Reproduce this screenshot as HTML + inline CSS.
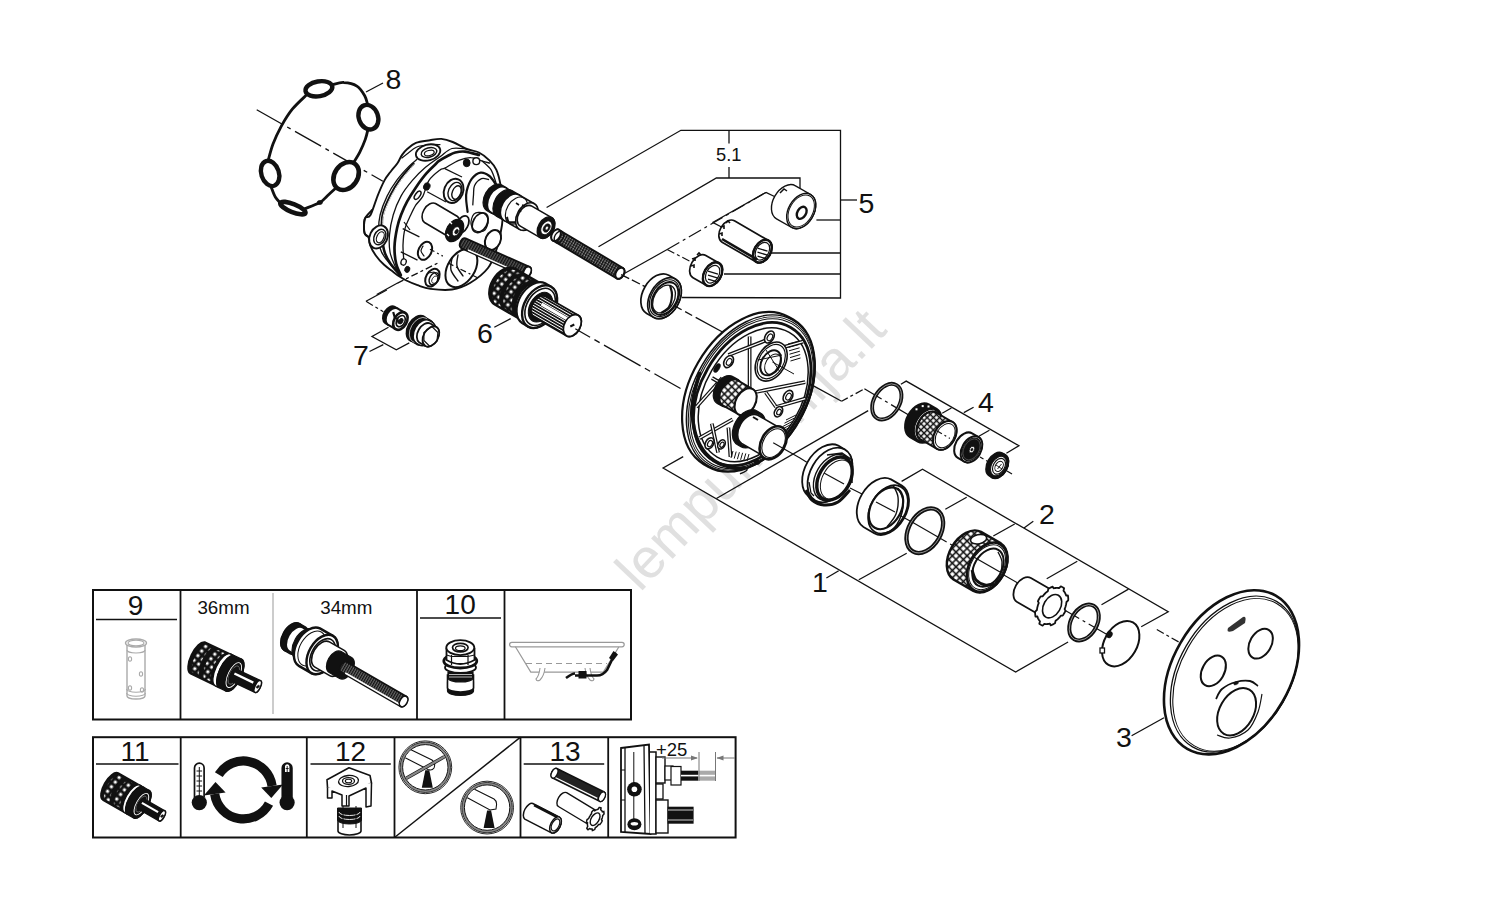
<!DOCTYPE html>
<html><head><meta charset="utf-8">
<style>
html,body{margin:0;padding:0;background:#fff;width:1500px;height:916px;overflow:hidden}
svg{position:absolute;left:0;top:0}
text{font-family:"Liberation Sans",sans-serif;fill:#111}
</style></head><body>
<svg width="1500" height="916" viewBox="0 0 1500 916">
<defs>
<pattern id="thread" width="2.6" height="2.6" patternUnits="userSpaceOnUse" patternTransform="rotate(30)"><rect width="2.6" height="2.6" fill="#555"/><rect width="1.3" height="2.6" fill="#111"/></pattern>
<pattern id="mesh" width="2.6" height="2.6" patternUnits="userSpaceOnUse" patternTransform="rotate(30)"><rect width="2.6" height="2.6" fill="#888"/><rect width="1.3" height="2.6" fill="#111"/><rect width="2.6" height="0.6" fill="#111"/></pattern>
<pattern id="spline" width="2.6" height="2.6" patternUnits="userSpaceOnUse" patternTransform="rotate(-60)"><rect width="2.6" height="2.6" fill="#fff"/><rect width="1.7" height="2.6" fill="#111"/></pattern>
<pattern id="knurl" width="4.2" height="4.2" patternUnits="userSpaceOnUse" patternTransform="rotate(45)"><rect width="4.2" height="4.2" fill="#111"/><rect x="1.4" y="1.4" width="1.9" height="1.9" fill="#fff"/></pattern>
<pattern id="knurl2" width="4.6" height="4.6" patternUnits="userSpaceOnUse" patternTransform="rotate(45)"><rect width="4.6" height="4.6" fill="#111"/><rect x="1.5" y="1.5" width="2" height="2" fill="#fff"/></pattern>
<pattern id="thread2" width="2.4" height="2.4" patternUnits="userSpaceOnUse" patternTransform="rotate(30)"><rect width="2.4" height="2.4" fill="#666"/><rect width="1.2" height="2.4" fill="#111"/></pattern>
<pattern id="knurl3" width="5" height="5" patternUnits="userSpaceOnUse" patternTransform="rotate(45)"><rect width="5" height="5" fill="#111"/><rect x="1.5" y="1.5" width="2.4" height="2.4" fill="#fff"/></pattern>
<pattern id="knurl4" width="4.4" height="4.4" patternUnits="userSpaceOnUse" patternTransform="rotate(45)"><rect width="4.4" height="4.4" fill="#111"/><rect x="1.2" y="1.2" width="2.9" height="2.9" fill="#fff"/></pattern>
<pattern id="knurl5" width="6" height="6" patternUnits="userSpaceOnUse" patternTransform="rotate(40)"><rect width="6" height="6" fill="#111"/><rect x="1.6" y="1.6" width="2.9" height="2.9" fill="#fff"/></pattern>
<pattern id="knurl6" width="5.2" height="5.2" patternUnits="userSpaceOnUse" patternTransform="rotate(45)"><rect width="5.2" height="5.2" fill="#111"/><rect x="1.2" y="1.2" width="3.6" height="3.6" fill="#fff"/></pattern>
</defs>
<rect width="1500" height="916" fill="#fff"/>
<!-- watermark -->
<text x="0" y="0" font-size="56" style="fill:#e0e0e0" transform="translate(640,593) rotate(-46.5)">lempumanija.lt</text>

<!-- leader lines / brackets -->
<g id="leaders" stroke="#111" stroke-width="1.3" fill="none">
<!-- 5 -->
<polyline points="546.6,207.5 680.9,130.3 840.5,130.3 840.5,298 682,297.5"/>
<line x1="729" y1="130.3" x2="729" y2="143.5"/>
<polyline points="598.5,246.8 716.4,178 800,178 800,188.5"/>
<line x1="729" y1="167" x2="729" y2="178"/>
<line x1="840.5" y1="200" x2="857" y2="200"/>
<line x1="816.4" y1="220" x2="840.5" y2="220"/>
<line x1="770.8" y1="253" x2="840.5" y2="253"/>
<line x1="724" y1="274" x2="840.5" y2="274"/>
<!-- 8 -->
<line x1="366" y1="92" x2="383" y2="83"/>
<!-- 7 -->
<polyline points="388.5,327.3 372,336.5 396.3,349.8 409.3,342.9"/>
<line x1="369.5" y1="351.5" x2="383.3" y2="344.6"/>
<polyline points="386.8,290 366,301.3"/>
<!-- 6 -->
<line x1="494.3" y1="327.3" x2="510.7" y2="318.6"/>
<!-- 4 -->
<polyline points="900.9,384.2 906.2,381.1 1018.9,445.7 1006.4,453.2"/>
<line x1="951.4" y1="408" x2="942.2" y2="413.2"/>
<line x1="989.4" y1="430.3" x2="978.9" y2="436.2"/>
<line x1="963.8" y1="412.6" x2="973.6" y2="407.3"/>
<!-- 1 -->
<polyline points="683.2,456.6 663.1,468 1015.6,672.1 1068.1,642"/>
<line x1="716.4" y1="498.5" x2="868.2" y2="410.6"/>
<line x1="826.4" y1="578" x2="838.7" y2="570.7"/>
<line x1="858.8" y1="579.8" x2="906.7" y2="553.3"/>
<!-- 2 -->
<polyline points="901.6,481.4 922.5,469.3 1168.2,611.8 1141.2,626.7"/>
<line x1="966.7" y1="497.3" x2="945.3" y2="509.3"/>
<line x1="1014.7" y1="524" x2="993.3" y2="536"/>
<line x1="1077.3" y1="561.3" x2="1046.7" y2="578.7"/>
<line x1="1128.5" y1="589.1" x2="1101.5" y2="604.7"/>
<line x1="1024" y1="528" x2="1033.3" y2="521.3"/>
</g>

<!-- labels -->
<g font-size="28.5">
<text x="385.5" y="89.3">8</text>
<text x="858.5" y="212.6">5</text>
<text x="477" y="342.9">6</text>
<text x="353" y="364.5">7</text>
<text x="978" y="411.9">4</text>
<text x="1039" y="524">2</text>
<text x="812" y="592">1</text>
<text x="1116" y="746.5">3</text>
</g>
<text x="716" y="161.4" font-size="18.3">5.1</text>

<!-- table 1 -->
<g stroke="#111" fill="none">
<rect x="93" y="590" width="538" height="129.5" stroke-width="2"/>
<line x1="180.5" y1="590" x2="180.5" y2="719.5" stroke-width="1.8"/>
<line x1="417" y1="590" x2="417" y2="719.5" stroke-width="1.8"/>
<line x1="504.5" y1="590" x2="504.5" y2="719.5" stroke-width="1.8"/>
<line x1="273" y1="593" x2="273" y2="714" stroke="#bbb" stroke-width="1.5"/>
<line x1="96" y1="619.5" x2="177" y2="619.5" stroke-width="1.5"/>
<line x1="420" y1="618" x2="501" y2="618" stroke-width="1.5"/>
</g>
<text x="135.5" y="614.7" font-size="28" text-anchor="middle">9</text>
<text x="223.5" y="613.8" font-size="18.8" text-anchor="middle">36mm</text>
<text x="346.3" y="613.8" font-size="18.8" text-anchor="middle">34mm</text>
<text x="460.2" y="614.4" font-size="28" text-anchor="middle">10</text>

<!-- table 2 -->
<g stroke="#111" fill="none">
<rect x="93" y="737.2" width="642.6" height="100.3" stroke-width="2"/>
<line x1="180.7" y1="737.2" x2="180.7" y2="837.5" stroke-width="1.8"/>
<line x1="306.8" y1="737.2" x2="306.8" y2="837.5" stroke-width="1.8"/>
<line x1="394.5" y1="737.2" x2="394.5" y2="837.5" stroke-width="1.8"/>
<line x1="520.5" y1="737.2" x2="520.5" y2="837.5" stroke-width="1.8"/>
<line x1="608.2" y1="737.2" x2="608.2" y2="837.5" stroke-width="1.8"/>
<line x1="394.5" y1="837.5" x2="520.5" y2="737.2" stroke-width="1.5"/>
<line x1="96" y1="764" x2="178.5" y2="764" stroke-width="1.5"/>
<line x1="310.5" y1="764" x2="390.8" y2="764" stroke-width="1.5"/>
<line x1="523.7" y1="764" x2="604.2" y2="764" stroke-width="1.5"/>
</g>
<text x="135" y="760.8" font-size="28" text-anchor="middle">11</text>
<text x="350.6" y="760.8" font-size="28" text-anchor="middle">12</text>
<text x="565.1" y="760.8" font-size="28" text-anchor="middle">13</text>

<!-- PARTS -->
<g id="parts">
<polyline points="256.7,109.7 382.9,181.2" fill="none" stroke="#111" stroke-width="1.3" stroke-dasharray="30 5 4 5" />
<path d="M332.8,84.7 C334.6,84.3 339.9,82.2 343.9,82.5 C347.9,82.7 353.4,83.9 356.9,86.2 C360.4,88.4 362.9,92.7 364.7,95.8 C366.5,98.9 367.2,103.2 367.7,104.7 " fill="none" stroke="#111" stroke-width="2.8" stroke-linejoin="round" stroke-linecap="round" />
<path d="M368,129.2 C367.6,130.9 366.6,135.6 365.3,139.4 C363.9,143.3 361.6,148.6 359.7,152.4 C357.7,156.3 354.6,160.9 353.6,162.6 " fill="none" stroke="#111" stroke-width="2.8" stroke-linejoin="round" stroke-linecap="round" />
<path d="M335.6,188.2 C334.2,189.5 329.8,193.6 327.2,196 C324.6,198.4 323.7,200.4 319.8,202.5 C315.9,204.7 306.6,207.9 304,209 " fill="none" stroke="#111" stroke-width="2.8" stroke-linejoin="round" stroke-linecap="round" />
<path d="M280.8,203.5 C279.9,202.4 276.9,199.7 275.3,197 C273.6,194.2 271.9,188.8 271.2,187.1 " fill="none" stroke="#111" stroke-width="2.8" stroke-linejoin="round" stroke-linecap="round" />
<path d="M268.2,160.4 C269,157.7 270.9,149.7 273,144.1 C275.2,138.4 278,132.3 281.2,126.4 C284.4,120.6 288,114.5 292.3,109.2 C296.7,103.8 304.7,96.8 307.2,94.3 " fill="none" stroke="#111" stroke-width="2.8" stroke-linejoin="round" stroke-linecap="round" />
<ellipse cx="319.8" cy="202.5" rx="2.6" ry="2" transform="rotate(0 319.8 202.5)" fill="#111" stroke="#111" stroke-width="0.8"/>
<ellipse cx="318.9" cy="88.8" rx="13.6" ry="7.4" transform="rotate(-10 318.9 88.8)" fill="#fff" stroke="#111" stroke-width="4.4"/>
<ellipse cx="368.4" cy="117.2" rx="9.6" ry="12.6" transform="rotate(-20 368.4 117.2)" fill="#fff" stroke="#111" stroke-width="4.4"/>
<ellipse cx="346.1" cy="176" rx="15" ry="11.5" transform="rotate(-55 346.1 176)" fill="#fff" stroke="#111" stroke-width="4.6"/>
<ellipse cx="270.1" cy="173.4" rx="8.8" ry="13" transform="rotate(-18 270.1 173.4)" fill="#fff" stroke="#111" stroke-width="4.4"/>
<ellipse cx="292.9" cy="208.1" rx="13.5" ry="4" transform="rotate(22 292.9 208.1)" fill="#fff" stroke="#111" stroke-width="4.6"/>
<path d="M370.5,215 C372.5,211.4 375.2,201.9 377.5,196.1 C379.8,190.3 382.3,184.5 384.5,180.4 C386.7,176.3 388.4,174.6 390.6,171.7 C392.8,168.8 395.7,165.8 397.6,163 C399.5,160.2 400.3,157.4 401.9,155.1 C403.5,152.8 404.9,151 407.2,149 C409.5,147 412.1,144.4 415.9,142.9 C419.7,141.4 425.6,140.9 429.9,140.2 C434.1,139.5 437.6,138.6 441.4,138.9 C445.2,139.2 448.5,140.3 452.7,142 C456.9,143.7 462.3,147.2 466.7,149 C471.1,150.8 475.1,150.6 478.9,152.5 C482.7,154.4 486.5,157.4 489.4,160.3 C492.3,163.2 494.5,165.7 496.4,169.9 C498.3,174.1 499.6,179.8 500.7,185.7 C501.8,191.5 502.8,198.4 503,205 C503.2,211.6 503,217.8 502,225 C501,232.2 499.3,240.8 497,248 C494.7,255.2 492.5,262.2 488,268 C483.5,273.8 476,279.4 470,283 C464,286.6 458.6,288.5 452,289.5 C445.4,290.5 436.2,289.6 430.5,288.9 C424.8,288.2 421.5,286.6 417.5,285.2 C413.5,283.8 409.3,281.9 406.4,280.5 C403.5,279.1 402.2,278.3 399.9,276.8 C397.6,275.3 395.1,273.3 392.5,271.3 C389.9,269.3 386.9,267.4 384.1,264.8 C381.3,262.2 378.1,258.8 375.8,255.5 C373.5,252.2 371.4,248.4 370.2,245.3 C369,242.2 369.3,238.9 368.4,236.9 C367.5,234.9 365.3,235.7 364.6,233.2 C363.9,230.7 364,224.7 364.2,222.1 C364.4,219.5 364.6,218.6 365.6,217.4 C366.7,216.2 368.5,218.6 370.5,215 Z" fill="#fff" stroke="#111" stroke-width="1.9" stroke-linejoin="round" stroke-linecap="round" />
<path d="M372.1,210 C371,211.2 366.9,215.4 365.6,217.4 C364.3,219.4 364.4,219.5 364.2,222.1 C364,224.7 363.9,230.7 364.6,233.2 C365.3,235.7 367.8,236.3 368.4,236.9 " fill="none" stroke="#111" stroke-width="1.9" stroke-linejoin="round" stroke-linecap="round" />
<path d="M440,144.6 C438.3,144.6 433.9,144.2 430,144.6 C426.1,145 420.6,145.4 416.8,147 C413,148.6 409.5,152.2 407,154 C404.5,155.8 402.8,157.3 401.9,158 " fill="none" stroke="#111" stroke-width="1.2" stroke-linejoin="round" stroke-linecap="round" />
<path d="M416.8,159.5 C415.5,160.7 412.2,162.9 408.9,166.4 C405.5,169.9 400.3,175.5 396.7,180.4 C393.1,185.3 389.9,190.3 387.1,196.1 C384.3,201.9 381.5,209.3 380.1,215 C378.7,220.7 378.6,224.3 378.6,230 C378.7,235.7 379,244 380.4,249 C381.8,254 383.6,255.8 386.9,260.1 C390.1,264.4 397.7,272.5 399.9,275 " fill="none" stroke="#111" stroke-width="1.3" stroke-linejoin="round" stroke-linecap="round" />
<path d="M413.3,163.8 C411.1,166.4 404,174.2 400.2,179.5 C396.4,184.8 393.5,189.4 390.6,195.3 C387.7,201.2 384.1,208.9 382.7,215 C381.3,221.1 381.8,226.2 382,232 C382.2,237.8 382.7,244.8 384,250 C385.3,255.2 387.2,258.8 390,263 C392.8,267.2 398.8,273.4 400.5,275.5 " fill="none" stroke="#111" stroke-width="2.6" stroke-linejoin="round" stroke-linecap="round" />
<path d="M413.8,164.6 C411.6,167.2 404.6,175.1 400.9,180.3 C397.2,185.5 394.3,190.2 391.4,196 C388.5,201.8 385,209 383.6,215 C382.2,221 383.1,229.2 383,232 " fill="none" stroke="#fff" stroke-width="0.9" stroke-linejoin="round" stroke-linecap="round" />
<path d="M466.7,149 C464.2,148.9 456.4,147.2 452,148.5 C447.6,149.8 444.4,153.7 440,156.8 C435.6,159.9 430.1,163.4 425.5,167.3 C420.9,171.2 416.5,175.6 412.4,180.4 C408.3,185.2 404.2,190.3 401,196.1 C397.8,201.9 395.1,208.5 393.2,215 C391.3,221.5 390,228.8 389.5,235 C389,241.2 389.1,246.8 390,252 C390.9,257.2 393.2,262 395,266 C396.8,270 399.6,274.3 400.5,276 " fill="none" stroke="#111" stroke-width="1.3" stroke-linejoin="round" stroke-linecap="round" />
<path d="M478.9,155 C476.6,154.4 468.8,152 464.9,151.6 C461,151.2 458.2,151.8 455.3,152.5 C452.4,153.2 450.3,154.6 447.5,156 C444.7,157.4 440.6,159.9 438.7,161.2 C436.8,162.5 438.1,161.8 436,163.8 C433.9,165.8 429.8,169.5 426.4,173.4 C423,177.3 419.1,182.7 415.9,187.4 C412.7,192.1 409.7,196.8 407.2,201.4 C404.7,206 402.7,210.6 401,215 C399.3,219.4 398.2,222.7 397.1,228 C396,233.3 394.6,241.1 394.5,247.1 C394.4,253.1 395.1,259.2 396.2,263.8 C397.2,268.4 400,273.1 400.8,275 " fill="none" stroke="#111" stroke-width="2.7" stroke-linejoin="round" stroke-linecap="round" />
<path d="M489.4,163 C488.2,162.7 485.5,162.1 482.4,161.2 C479.3,160.3 474.9,157.8 471,157.7 C467.1,157.5 463.2,158.6 458.8,160.3 C454.4,162.1 447.9,166.6 444.8,168.2 C441.7,169.8 442.6,168 440,170 C437.4,172 431.9,176.1 429,180.4 C426.1,184.8 425.1,192 422.9,196.1 C420.7,200.2 417.9,201.8 415.9,204.9 C413.9,208.1 412.5,211.1 410.7,215 C408.9,218.9 406.3,223.6 405,228.6 C403.7,233.6 403.2,239.4 403,245 C402.8,250.6 403.8,259.2 404,262 " fill="none" stroke="#111" stroke-width="1.3" stroke-linejoin="round" stroke-linecap="round" />
<path d="M496.4,183.9 C495.5,181.6 493.4,173.7 491.1,169.9 C488.8,166.1 483.8,162.6 482.4,161.2 " fill="none" stroke="#111" stroke-width="1.3" stroke-linejoin="round" stroke-linecap="round" />
<ellipse cx="417.6" cy="195.3" rx="2.3" ry="4.8" transform="rotate(35 417.6 195.3)" fill="#fff" stroke="#111" stroke-width="1.5"/>
<ellipse cx="426.8" cy="186.5" rx="3.2" ry="3.8" transform="rotate(20 426.8 186.5)" fill="#111" stroke="#111" stroke-width="0.8"/>
<polyline points="427.2,191.8 446,202" fill="none" stroke="#111" stroke-width="1.3" />
<ellipse cx="428.1" cy="152.5" rx="12.5" ry="7.8" transform="rotate(-15 428.1 152.5)" fill="#fff" stroke="#111" stroke-width="1.8"/>
<ellipse cx="429" cy="152.5" rx="8" ry="4.6" transform="rotate(-15 429 152.5)" fill="#fff" stroke="#111" stroke-width="1.5"/>
<ellipse cx="429.3" cy="153" rx="5" ry="2.6" transform="rotate(-15 429.3 153)" fill="none" stroke="#111" stroke-width="1.2"/>
<ellipse cx="378.6" cy="236.9" rx="8.8" ry="12" transform="rotate(25 378.6 236.9)" fill="#fff" stroke="#111" stroke-width="1.9"/>
<ellipse cx="379.8" cy="237" rx="5.6" ry="8.2" transform="rotate(25 379.8 237)" fill="#fff" stroke="#111" stroke-width="1.5"/>
<ellipse cx="380.3" cy="237.2" rx="3.4" ry="5.8" transform="rotate(25 380.3 237.2)" fill="none" stroke="#111" stroke-width="1.2"/>
<ellipse cx="466.7" cy="162.9" rx="3.4" ry="3.8" transform="rotate(0 466.7 162.9)" fill="#111" stroke="#111" stroke-width="1"/>
<ellipse cx="476.3" cy="161.2" rx="3.4" ry="3.4" transform="rotate(0 476.3 161.2)" fill="#fff" stroke="#111" stroke-width="1.4"/>
<polyline points="444.8,168.6 462,177" fill="none" stroke="#111" stroke-width="1.2" />
<ellipse cx="453.6" cy="190.9" rx="9.5" ry="12.5" transform="rotate(22 453.6 190.9)" fill="#fff" stroke="#111" stroke-width="1.9"/>
<ellipse cx="455" cy="191.5" rx="6.5" ry="9.5" transform="rotate(22 455 191.5)" fill="#fff" stroke="#111" stroke-width="1.4"/>
<ellipse cx="456.5" cy="192.5" rx="4.2" ry="7" transform="rotate(22 456.5 192.5)" fill="none" stroke="#111" stroke-width="1.4"/>
<path d="M467.6,211.9 C467.4,209.9 466.4,203.5 466.2,200 C466,196.5 465.8,194.5 466.7,190.9 C467.6,187.3 469.6,181.8 471.9,178.7 C474.2,175.6 477.8,173 480.7,172.6 C483.6,172.2 486.9,174.1 489.4,176 C491.9,177.9 494.5,182.6 495.5,183.9 " fill="none" stroke="#111" stroke-width="2.2" stroke-linejoin="round" stroke-linecap="round" />
<path d="M472.8,204.9 C472.9,203.2 473.2,198.2 473.5,195 C473.8,191.8 473.2,188.4 474.5,185.7 C475.8,183 479.2,179.7 481.5,178.7 C483.8,177.7 487.3,179.4 488.5,179.5 " fill="none" stroke="#111" stroke-width="1.3" stroke-linejoin="round" stroke-linecap="round" />
<polyline points="402.7,228.6 419.4,236.9" fill="none" stroke="#111" stroke-width="1.3" />
<polyline points="400.8,251.8 417.5,260.1" fill="none" stroke="#111" stroke-width="1.3" />
<polyline points="404,222 410,230" fill="none" stroke="#111" stroke-width="1.2" />
<ellipse cx="425" cy="250.8" rx="6.5" ry="9.5" transform="rotate(25 425 250.8)" fill="#fff" stroke="#111" stroke-width="2.0"/>
<path d="M423,246 C422.7,246.8 420.8,249.3 421,251 C421.2,252.7 423.5,255.2 424,256 " fill="none" stroke="#111" stroke-width="1.2" stroke-linejoin="round" stroke-linecap="round" />
<ellipse cx="403.6" cy="262" rx="2.6" ry="3.2" transform="rotate(20 403.6 262)" fill="#fff" stroke="#111" stroke-width="1.3"/>
<ellipse cx="407.3" cy="269.4" rx="2.5" ry="3.2" transform="rotate(20 407.3 269.4)" fill="#111" stroke="#111" stroke-width="0.8"/>
<path d="M424.5,222.5 A7.3,11 30 0 1 435.5,203.5 L457.5,216.5 A7.3,11 30 0 1 446.5,235.5 Z" fill="#fff" stroke="#111" stroke-width="1.6" stroke-linejoin="round"/>
<ellipse cx="462.4" cy="224.6" rx="5.5" ry="9.5" transform="rotate(28 462.4 224.6)" fill="#fff" stroke="#111" stroke-width="1.8"/>
<ellipse cx="454.6" cy="230.5" rx="8" ry="12" transform="rotate(30 454.6 230.5)" fill="#111" stroke="#111" stroke-width="1.2" />
<ellipse cx="456" cy="231.3" rx="3.3" ry="5" transform="rotate(30 456 231.3)" fill="#fff" stroke="#111" stroke-width="0.8" />
<ellipse cx="456.6" cy="231.6" rx="1.7" ry="2.5" transform="rotate(30 456.6 231.6)" fill="#111" stroke="#111" stroke-width="0.5" />
<path d="M450,222 l2,2 M447,234 l2,2" stroke="#fff" stroke-width="1.3"/>
<ellipse cx="480.1" cy="222.7" rx="7" ry="10.5" transform="rotate(30 480.1 222.7)" fill="#fff" stroke="#111" stroke-width="1.8" />
<path d="M474,214 C476,212.2 480.7,212 483,213 C485.3,214 487.7,217.2 488,220 C488.3,222.8 487,228.2 485,230 C483,231.8 478.3,232 476,231 C473.7,230 471.3,226.8 471,224 C470.7,221.2 472,215.8 474,214 Z" fill="none" stroke="#111" stroke-width="1.2"/>
<ellipse cx="461.4" cy="267.9" rx="13.5" ry="21" transform="rotate(32 461.4 267.9)" fill="#fff" stroke="#111" stroke-width="2.0"/>
<path d="M452,258 C451.8,260 450,266.2 451,270 C452,273.8 456.8,279.2 458,281 " fill="none" stroke="#111" stroke-width="1.4" stroke-linejoin="round" stroke-linecap="round" />
<path d="M458,255 C457.8,256.8 456.2,262.5 457,266 C457.8,269.5 462,274.3 463,276 " fill="none" stroke="#111" stroke-width="1.4" stroke-linejoin="round" stroke-linecap="round" />
<polyline points="448,263 478,278" fill="none" stroke="#111" stroke-width="1.3" stroke-dasharray="6 3 2 3" />
<ellipse cx="432.4" cy="277.7" rx="6.3" ry="9.5" transform="rotate(30 432.4 277.7)" fill="#fff" stroke="#111" stroke-width="2.0" />
<ellipse cx="434" cy="278.7" rx="4.3" ry="6.5" transform="rotate(30 434 278.7)" fill="#fff" stroke="#111" stroke-width="1.4" />
<path d="M428,273 l6,-1 l4,4 l-1,6" fill="none" stroke="#111" stroke-width="1.1"/>
<ellipse cx="434.9" cy="279.7" rx="2.7" ry="4" transform="rotate(30 434.9 279.7)" fill="none" stroke="#111" stroke-width="0.8" />
<ellipse cx="493" cy="240" rx="7.5" ry="10.5" transform="rotate(25 493 240)" fill="#fff" stroke="#111" stroke-width="2.0"/>
<polyline points="376.7,294.5 397.1,283.3" fill="none" stroke="#111" stroke-width="1.3" />
<polyline points="397.1,283.3 440,262" fill="none" stroke="#111" stroke-width="1.3" stroke-dasharray="7 3 3 3" />
<polyline points="430,249.2 442.8,256.1" fill="none" stroke="#111" stroke-width="1.2" stroke-dasharray="5 3 2 3" />
<path d="M461.2,248.2 A3.6,5.4 24 0 1 465.6,238.4 L529.5,266.9 A3.6,5.4 24 0 1 525.1,276.7 Z" fill="url(#thread)" stroke="#111" stroke-width="1.8" stroke-linejoin="round"/>
<ellipse cx="527.3" cy="271.8" rx="3.6" ry="5.4" transform="rotate(24 527.3 271.8)" fill="#fff" stroke="#111" stroke-width="1.8" />
<path d="M468,250 L524,275" stroke="#fff" stroke-width="1.4"/>
<ellipse cx="527.3" cy="271.8" rx="3.6" ry="5.4" transform="rotate(24 527.3 271.8)" fill="#fff" stroke="#111" stroke-width="1.8" />
<path d="M486.6,210.4 A9.9,14.8 30 0 1 501.4,184.8 L506.6,187.8 A9.9,14.8 30 0 1 491.8,213.4 Z" fill="#111" stroke="#111" stroke-width="1.2" stroke-linejoin="round"/>
<path d="M491.2,212.5 A9.5,14.3 30 0 1 505.5,187.7 L512.4,191.7 A9.5,14.3 30 0 1 498.1,216.5 Z" fill="#fff" stroke="#111" stroke-width="1.5" stroke-linejoin="round"/>
<path d="M496.9,216.6 A10,15 30 0 1 511.9,190.6 L519.7,195.1 A10,15 30 0 1 504.7,221.1 Z" fill="#111" stroke="#111" stroke-width="1.2" stroke-linejoin="round"/>
<path d="M503.9,220.4 A9.9,14.8 30 0 1 518.7,194.8 L534.3,203.8 A9.9,14.8 30 0 1 519.5,229.4 Z" fill="#fff" stroke="#111" stroke-width="1.6" stroke-linejoin="round"/>
<ellipse cx="516.5" cy="210.6" rx="9.7" ry="14.6" transform="rotate(30 516.5 210.6)" fill="none" stroke="#111" stroke-width="1.2" />
<path d="M506.9,217.1 C507.3,217.9 507.4,221.3 508.9,222.1 C510.4,222.9 514.8,222.1 515.9,222.1 " fill="none" stroke="#111" stroke-width="2.2"/>
<ellipse cx="526.9" cy="216.6" rx="9.9" ry="14.8" transform="rotate(30 526.9 216.6)" fill="#fff" stroke="#111" stroke-width="1.6" />
<path d="M520.3,226.1 A7.7,11.5 30 0 1 531.8,206.1 L551.7,217.6 A7.7,11.5 30 0 1 540.2,237.6 Z" fill="#fff" stroke="#111" stroke-width="1.6" stroke-linejoin="round"/>
<ellipse cx="546" cy="227.6" rx="7.7" ry="11.5" transform="rotate(30 546 227.6)" fill="#111" stroke="#111" stroke-width="1.4" />
<ellipse cx="546.4" cy="227.8" rx="5" ry="7.5" transform="rotate(30 546.4 227.8)" fill="#fff" stroke="#111" stroke-width="1.0" />
<ellipse cx="546.7" cy="228" rx="3" ry="4.5" transform="rotate(30 546.7 228)" fill="#111" stroke="#111" stroke-width="0.6" />
<ellipse cx="546.8" cy="228.1" rx="1.3" ry="2" transform="rotate(30 546.8 228.1)" fill="#fff" stroke="#111" stroke-width="0.5" />
<path d="M516,203 l3,2 M522,205 l3,1 M519,210 l2,2" stroke="#111" stroke-width="1.6"/>
<path d="M552.9,240.4 A4,6 30.7 0 1 559.1,230 L623,268 A4,6 30.7 0 1 616.8,278.4 Z" fill="url(#mesh)" stroke="#111" stroke-width="2.0" stroke-linejoin="round"/>
<ellipse cx="619.9" cy="273.2" rx="4" ry="6" transform="rotate(30.7 619.9 273.2)" fill="#fff" stroke="#111" stroke-width="2.0" />
<ellipse cx="556" cy="235.2" rx="4.2" ry="6.3" transform="rotate(30.7 556 235.2)" fill="#fff" stroke="#111" stroke-width="2.0" />
<ellipse cx="559" cy="236.9" rx="4.2" ry="6.3" transform="rotate(30.7 559 236.9)" fill="none" stroke="#111" stroke-width="1.4" />
<path d="M494.8,304.5 A13.7,20.5 30 0 1 515.2,268.9 L543.8,285.4 A13.7,20.5 30 0 1 523.3,321 Z" fill="url(#knurl5)" stroke="#111" stroke-width="2.4" stroke-linejoin="round"/>
<path d="M494.8,304.5 A13.7,20.5 30 0 1 515.2,268.9 L517.8,270.4 A13.7,20.5 30 0 0 497.3,306 Z" fill="#111" stroke="#111" stroke-width="1.0" stroke-linejoin="round"/>
<path d="M505.1,310.5 A13.7,20.5 30 0 1 525.6,274.9 L528.7,276.7 A13.7,20.5 30 0 0 508.2,312.2 Z" fill="#111" stroke="#111" stroke-width="0.8" stroke-linejoin="round"/>
<path d="M517.3,317.5 A13.7,20.5 30 0 1 537.8,281.9 L541.2,283.9 A13.7,20.5 30 0 0 520.7,319.5 Z" fill="#111" stroke="#111" stroke-width="1.0" stroke-linejoin="round"/>
<path d="M520.6,319.7 A13.9,20.8 30 0 1 541.4,283.7 L544,285.2 A13.9,20.8 30 0 0 523.2,321.2 Z" fill="#fff" stroke="#111" stroke-width="1.6" stroke-linejoin="round"/>
<path d="M522.1,323.1 A15.3,23 30 0 1 545.1,283.3 L551.1,286.8 A15.3,23 30 0 1 528.1,326.6 Z" fill="#fff" stroke="#111" stroke-width="2.2" stroke-linejoin="round"/>
<ellipse cx="539.6" cy="306.7" rx="15.3" ry="23" transform="rotate(30 539.6 306.7)" fill="#fff" stroke="#111" stroke-width="2.4" />
<ellipse cx="540.1" cy="306.9" rx="13.3" ry="20" transform="rotate(30 540.1 306.9)" fill="none" stroke="#111" stroke-width="1.6" />
<ellipse cx="540.5" cy="307.2" rx="10.7" ry="16" transform="rotate(30 540.5 307.2)" fill="#111" stroke="#111" stroke-width="1.0" />
<path d="M533.7,316.9 A7.9,11.8 30 0 1 545.5,296.5 L578.2,315.3 A7.9,11.8 30 0 1 566.4,335.8 Z" fill="url(#spline)" stroke="#111" stroke-width="1.8" stroke-linejoin="round"/>
<path d="M541.6,304.2 L569.3,320.2" stroke="#fff" stroke-width="3.2"/>
<ellipse cx="572.3" cy="325.5" rx="7.9" ry="11.8" transform="rotate(30 572.3 325.5)" fill="#fff" stroke="#111" stroke-width="1.8" />
<path d="M570.3,326.5 l4,-2" stroke="#111" stroke-width="2"/>
<polyline points="366,301.3 383.3,311.7" fill="none" stroke="#111" stroke-width="1.2" stroke-dasharray="8 3 3 3" />
<path d="M385.2,323.2 A6.3,9.5 30 0 1 394.8,306.8 L398.2,308.8 A6.3,9.5 30 0 1 388.7,325.2 Z" fill="#111" stroke="#111" stroke-width="1.6" stroke-linejoin="round"/>
<path d="M387.8,324.7 A6.3,9.5 30 0 1 397.3,308.3 L405.1,312.8 A6.3,9.5 30 0 1 395.6,329.2 Z" fill="#fff" stroke="#111" stroke-width="2.0" stroke-linejoin="round"/>
<ellipse cx="400.4" cy="321" rx="6.3" ry="9.5" transform="rotate(30 400.4 321)" fill="#fff" stroke="#111" stroke-width="2.6" />
<ellipse cx="400.7" cy="321.1" rx="4" ry="6" transform="rotate(30 400.7 321.1)" fill="#fff" stroke="#111" stroke-width="1.6" />
<ellipse cx="400.8" cy="321.2" rx="2" ry="3" transform="rotate(30 400.8 321.2)" fill="#111" stroke="#111" stroke-width="0.8" />
<path d="M393.2,312 l2,7 M396.8,317.5 l2,6" stroke="#111" stroke-width="2.2"/>
<path d="M410,340.6 A9.3,14 30 0 1 424,316.4 L430.9,320.4 A9.3,14 30 0 1 416.9,344.6 Z" fill="#111" stroke="#111" stroke-width="1.2" stroke-linejoin="round"/>
<ellipse cx="417" cy="328.5" rx="9.3" ry="14" transform="rotate(30 417 328.5)" fill="none" stroke="#111" stroke-width="1.5" />
<ellipse cx="419.6" cy="330" rx="9" ry="13.5" transform="rotate(30 419.6 330)" fill="none" stroke="#fff" stroke-width="0.6" />
<path d="M416.6,343.3 A8.7,13 30 0 1 429.6,320.7 L432.2,322.2 A8.7,13 30 0 1 419.2,344.8 Z" fill="#fff" stroke="#111" stroke-width="1.5" stroke-linejoin="round"/>
<path d="M419.3,342.5 A7.3,11 30 0 1 430.3,323.5 L436.4,327 A7.3,11 30 0 1 425.4,346 Z" fill="#fff" stroke="#111" stroke-width="1.8" stroke-linejoin="round"/>
<ellipse cx="430.9" cy="336.5" rx="7.3" ry="11" transform="rotate(30 430.9 336.5)" fill="#fff" stroke="#111" stroke-width="1.8" />
<path d="M423.9,332.5 L431.9,326.5 L437.9,332.5 L436.9,341.5 L429.9,346.5 L423.9,340.5 Z" fill="none" stroke="#111" stroke-width="1.2"/>
<polyline points="623.5,274 667.2,249.5" fill="none" stroke="#111" stroke-width="1.2" />
<polyline points="667.2,249.5 765.9,192.4" fill="none" stroke="#111" stroke-width="1.2" stroke-dasharray="14 4 3 4" />
<polyline points="712.6,222.4 765.9,192.4" fill="none" stroke="#111" stroke-width="1.2" />
<polyline points="765.9,192.4 775.5,197" fill="none" stroke="#111" stroke-width="1.2" />
<polyline points="667.2,249.5 692.5,262.6" fill="none" stroke="#111" stroke-width="1.2" stroke-dasharray="8 3 3 3" />
<polyline points="712.6,222.4 723,227.7" fill="none" stroke="#111" stroke-width="1.2" />
<polyline points="621.1,274.6 645.6,286.8" fill="none" stroke="#111" stroke-width="1.3" stroke-dasharray="9 3 9 3" />
<path d="M776.5,218.8 A12.7,19 30 0 1 795.5,185.8 L810.7,194.5 A12.7,19 30 0 1 791.7,227.5 Z" fill="#fff" stroke="#111" stroke-width="1.4" stroke-linejoin="round"/>
<ellipse cx="801.2" cy="211" rx="12.7" ry="19" transform="rotate(30 801.2 211)" fill="#fff" stroke="#111" stroke-width="1.4" />
<ellipse cx="801.2" cy="211" rx="11.5" ry="17.3" transform="rotate(30 801.2 211)" fill="none" stroke="#111" stroke-width="1.0" />
<ellipse cx="801.7" cy="212.8" rx="4.3" ry="6.5" transform="rotate(30 801.7 212.8)" fill="none" stroke="#111" stroke-width="2.4" />
<path d="M780,193 l4,-4 l3,2" fill="none" stroke="#111" stroke-width="1.5"/>
<path d="M722.1,242.2 A8.2,12.3 30 0 1 734.4,220.8 L768.5,240.5 A8.2,12.3 30 0 1 756.2,261.9 Z" fill="#fff" stroke="#111" stroke-width="1.7" stroke-linejoin="round"/>
<ellipse cx="762.4" cy="251.2" rx="8.2" ry="12.3" transform="rotate(30 762.4 251.2)" fill="#fff" stroke="#111" stroke-width="1.7" />
<path d="M722,239 L757,259.5" stroke="#111" stroke-width="2.6"/>
<ellipse cx="762.4" cy="251.2" rx="8.2" ry="12.3" transform="rotate(30 762.4 251.2)" fill="none" stroke="#111" stroke-width="2.4" />
<ellipse cx="762.4" cy="251.2" rx="6.3" ry="9.5" transform="rotate(30 762.4 251.2)" fill="none" stroke="#111" stroke-width="1.2" />
<line x1="757.5" y1="248.2" x2="767.5" y2="251.2" stroke="#111" stroke-width="1.3"/>
<line x1="757.5" y1="252.2" x2="767.5" y2="255.2" stroke="#111" stroke-width="1.3"/>
<line x1="757.5" y1="256.2" x2="767.5" y2="259.2" stroke="#111" stroke-width="1.3"/>
<path d="M719,234 l3,-1 l0,3 M721,227 l3,-1 l0,3 M726,223 l2,-2 l2,2" fill="none" stroke="#111" stroke-width="1.6"/>
<path d="M693,277.7 A8.5,12.8 30 0 1 705.8,255.5 L719,263.1 A8.5,12.8 30 0 1 706.2,285.3 Z" fill="#fff" stroke="#111" stroke-width="1.7" stroke-linejoin="round"/>
<ellipse cx="712.6" cy="274.2" rx="8.5" ry="12.8" transform="rotate(30 712.6 274.2)" fill="#fff" stroke="#111" stroke-width="1.7" />
<ellipse cx="712.6" cy="274.2" rx="8.5" ry="12.8" transform="rotate(30 712.6 274.2)" fill="none" stroke="#111" stroke-width="2.4" />
<ellipse cx="712.6" cy="274.2" rx="6.3" ry="9.5" transform="rotate(30 712.6 274.2)" fill="none" stroke="#111" stroke-width="1.2" />
<line x1="708" y1="271.2" x2="718" y2="274.2" stroke="#111" stroke-width="1.3"/>
<line x1="708" y1="275.2" x2="718" y2="278.2" stroke="#111" stroke-width="1.3"/>
<line x1="708" y1="279.2" x2="718" y2="282.2" stroke="#111" stroke-width="1.3"/>
<path d="M691,266 l3,-1 l0,3 M692,259 l3,-1 l0,3 M697,255 l2,-2 l2,2" fill="none" stroke="#111" stroke-width="1.6"/>
<path d="M646.7,313.4 A14.7,22 30 0 1 668.7,275.2 L675.5,279.1 A14.7,22 30 0 1 653.5,317.3 Z" fill="#fff" stroke="#111" stroke-width="1.7" stroke-linejoin="round"/>
<ellipse cx="664.5" cy="298.2" rx="14.7" ry="22" transform="rotate(30 664.5 298.2)" fill="#fff" stroke="#111" stroke-width="1.7" />
<ellipse cx="664.5" cy="298.2" rx="13.2" ry="19.8" transform="rotate(30 664.5 298.2)" fill="none" stroke="#111" stroke-width="1.2" />
<ellipse cx="665" cy="298.5" rx="11.7" ry="17.6" transform="rotate(30 665 298.5)" fill="none" stroke="#111" stroke-width="2.0" />
<ellipse cx="664" cy="299" rx="10" ry="15" transform="rotate(30 664 299)" fill="none" stroke="#111" stroke-width="1.3" />
<path d="M670,285 C670.3,286.7 672.2,291.3 672,295 C671.8,298.7 670.8,304 669,307 C667.2,310 662.3,312 661,313 " fill="none" stroke="#111" stroke-width="2.2"/>
<polyline points="674.6,305.9 725,333.4" fill="none" stroke="#111" stroke-width="1.3" stroke-dasharray="8 4 8 4 30" />
<polyline points="575.3,328.8 688.4,393" fill="none" stroke="#111" stroke-width="1.3" stroke-dasharray="17 5 6 5 42 5 6 5 30" />
<path d="M703.7,464.2 A56.6,85 30 0 1 788.7,317 L793.2,319.5 A56.6,85 30 0 1 708.2,466.7 Z" fill="#fff" stroke="#111" stroke-width="2.2" stroke-linejoin="round"/>
<ellipse cx="750.7" cy="393.1" rx="56.1" ry="84.2" transform="rotate(30 750.7 393.1)" fill="none" stroke="#111" stroke-width="1.5" />
<ellipse cx="751.2" cy="393.4" rx="54.9" ry="82.4" transform="rotate(30 751.2 393.4)" fill="none" stroke="#111" stroke-width="1.1" />
<ellipse cx="751.7" cy="393.7" rx="53.7" ry="80.6" transform="rotate(30 751.7 393.7)" fill="none" stroke="#111" stroke-width="1.1" />
<ellipse cx="752.2" cy="394.1" rx="51.3" ry="77" transform="rotate(30 752.2 394.1)" fill="none" stroke="#111" stroke-width="2.8" />
<ellipse cx="753.2" cy="394.7" rx="48" ry="72" transform="rotate(30 753.2 394.7)" fill="none" stroke="#111" stroke-width="1.5" />
<path d="M700,372 C698.8,376.7 694,390.7 693,400 C692,409.3 692.3,419.7 694,428 C695.7,436.3 699,444.2 703,450 C707,455.8 712.7,460 718,463 C723.3,466 730.5,467.2 735,468 C739.5,468.8 743.3,468 745,468 " fill="none" stroke="#111" stroke-width="3.6"/>
<path d="M744,466 C744.5,466.7 747.7,468.7 747,470 C746.3,471.3 741.2,473.3 740,474 " fill="none" stroke="#111" stroke-width="1.4"/>
<polyline points="749.6,336.5 749.6,417.4" fill="none" stroke="#111" stroke-width="3.8" />
<polyline points="749.6,336.5 749.6,417.4" fill="none" stroke="#fff" stroke-width="1.3" />
<polyline points="728.4,355.1 767.8,339.6" fill="none" stroke="#111" stroke-width="3.8" />
<polyline points="728.4,355.1 767.8,339.6" fill="none" stroke="#fff" stroke-width="1.3" />
<polyline points="784.4,346.8 803.1,341.7" fill="none" stroke="#111" stroke-width="3.8" />
<polyline points="784.4,346.8 803.1,341.7" fill="none" stroke="#fff" stroke-width="1.3" />
<polyline points="753.3,392.5 805.2,382.1" fill="none" stroke="#111" stroke-width="3.8" />
<polyline points="753.3,392.5 805.2,382.1" fill="none" stroke="#fff" stroke-width="1.3" />
<polyline points="765.8,392.5 776.1,407" fill="none" stroke="#111" stroke-width="3.8" />
<polyline points="765.8,392.5 776.1,407" fill="none" stroke="#fff" stroke-width="1.3" />
<polyline points="776.1,407 805.2,398.7" fill="none" stroke="#111" stroke-width="3.8" />
<polyline points="776.1,407 805.2,398.7" fill="none" stroke="#fff" stroke-width="1.3" />
<polyline points="699.4,438.1 732.6,419.4" fill="none" stroke="#111" stroke-width="3.8" />
<polyline points="699.4,438.1 732.6,419.4" fill="none" stroke="#fff" stroke-width="1.3" />
<polyline points="711.8,423.6 718.1,452.6" fill="none" stroke="#111" stroke-width="3.8" />
<polyline points="711.8,423.6 718.1,452.6" fill="none" stroke="#fff" stroke-width="1.3" />
<polyline points="728.4,427.7 730.5,456.8" fill="none" stroke="#111" stroke-width="3.8" />
<polyline points="728.4,427.7 730.5,456.8" fill="none" stroke="#fff" stroke-width="1.3" />
<polyline points="696.3,407 722.2,378" fill="none" stroke="#111" stroke-width="3.8" />
<polyline points="696.3,407 722.2,378" fill="none" stroke="#fff" stroke-width="1.3" />
<polyline points="712,378 736,392" fill="none" stroke="#111" stroke-width="3.8" />
<polyline points="712,378 736,392" fill="none" stroke="#fff" stroke-width="1.3" />
<line x1="733" y1="451" x2="731" y2="458" stroke="#111" stroke-width="1"/>
<line x1="736.2" y1="451.6" x2="734.2" y2="458.6" stroke="#111" stroke-width="1"/>
<line x1="739.4" y1="452.2" x2="737.4" y2="459.2" stroke="#111" stroke-width="1"/>
<line x1="742.6" y1="452.8" x2="740.6" y2="459.8" stroke="#111" stroke-width="1"/>
<line x1="745.8" y1="453.4" x2="743.8" y2="460.4" stroke="#111" stroke-width="1"/>
<line x1="749" y1="454" x2="747" y2="461" stroke="#111" stroke-width="1"/>
<line x1="788" y1="344" x2="799" y2="341" stroke="#111" stroke-width="1"/>
<line x1="788.5" y1="347.4" x2="799.3" y2="344.4" stroke="#111" stroke-width="1"/>
<line x1="789" y1="350.8" x2="799.6" y2="347.8" stroke="#111" stroke-width="1"/>
<line x1="789.5" y1="354.2" x2="799.9" y2="351.2" stroke="#111" stroke-width="1"/>
<line x1="790" y1="357.6" x2="800.2" y2="354.6" stroke="#111" stroke-width="1"/>
<line x1="790.5" y1="361" x2="800.5" y2="358" stroke="#111" stroke-width="1"/>
<line x1="786" y1="420" x2="796" y2="415" stroke="#111" stroke-width="1"/>
<line x1="784.5" y1="423.2" x2="794.2" y2="418.2" stroke="#111" stroke-width="1"/>
<line x1="783" y1="426.4" x2="792.4" y2="421.4" stroke="#111" stroke-width="1"/>
<line x1="781.5" y1="429.6" x2="790.6" y2="424.6" stroke="#111" stroke-width="1"/>
<line x1="780" y1="432.8" x2="788.8" y2="427.8" stroke="#111" stroke-width="1"/>
<ellipse cx="769.4" cy="337" rx="4.3" ry="6.5" transform="rotate(30 769.4 337)" fill="#fff" stroke="#111" stroke-width="1.6" />
<ellipse cx="769.9" cy="337.3" rx="2.4" ry="3.6" transform="rotate(30 769.9 337.3)" fill="#fff" stroke="#111" stroke-width="1.2" />
<ellipse cx="728.6" cy="361.6" rx="4.3" ry="6.5" transform="rotate(30 728.6 361.6)" fill="#fff" stroke="#111" stroke-width="1.6" />
<ellipse cx="729.1" cy="361.9" rx="2.4" ry="3.6" transform="rotate(30 729.1 361.9)" fill="#fff" stroke="#111" stroke-width="1.2" />
<ellipse cx="788" cy="396.4" rx="4.3" ry="6.5" transform="rotate(30 788 396.4)" fill="#fff" stroke="#111" stroke-width="1.6" />
<ellipse cx="788.5" cy="396.7" rx="2.4" ry="3.6" transform="rotate(30 788.5 396.7)" fill="#fff" stroke="#111" stroke-width="1.2" />
<ellipse cx="778.5" cy="411.7" rx="3.7" ry="5.5" transform="rotate(30 778.5 411.7)" fill="#fff" stroke="#111" stroke-width="1.6" />
<ellipse cx="779" cy="412" rx="2" ry="3" transform="rotate(30 779 412)" fill="#fff" stroke="#111" stroke-width="1.2" />
<ellipse cx="709.5" cy="443.3" rx="4" ry="6" transform="rotate(30 709.5 443.3)" fill="#fff" stroke="#111" stroke-width="1.6" />
<ellipse cx="710" cy="443.6" rx="2.2" ry="3.3" transform="rotate(30 710 443.6)" fill="#fff" stroke="#111" stroke-width="1.2" />
<ellipse cx="721.5" cy="444.4" rx="3.3" ry="5" transform="rotate(30 721.5 444.4)" fill="#fff" stroke="#111" stroke-width="1.6" />
<ellipse cx="722" cy="444.7" rx="1.8" ry="2.8" transform="rotate(30 722 444.7)" fill="#fff" stroke="#111" stroke-width="1.2" />
<ellipse cx="717" cy="368" rx="2.5" ry="5" transform="rotate(30 717 368)" fill="#111" stroke="#111" stroke-width="0.5"/>
<ellipse cx="771.2" cy="361.6" rx="14" ry="21" transform="rotate(30 771.2 361.6)" fill="#fff" stroke="#111" stroke-width="1.6" />
<ellipse cx="771.2" cy="361.6" rx="12.3" ry="18.5" transform="rotate(30 771.2 361.6)" fill="#fff" stroke="#111" stroke-width="1.2" />
<ellipse cx="770.6" cy="362.8" rx="9" ry="13.5" transform="rotate(30 770.6 362.8)" fill="#fff" stroke="#111" stroke-width="2.0" />
<ellipse cx="773" cy="364.2" rx="7.3" ry="11" transform="rotate(30 773 364.2)" fill="none" stroke="#111" stroke-width="1.0" />
<path d="M758,360 L782,355 M766,350 L780,372 M772.4,362 L794,374" stroke="#111" stroke-width="1.0"/>
<path d="M717.2,403.4 A10.3,15.5 30 0 1 732.8,376.6 L738.2,379.6 A10.3,15.5 30 0 1 722.7,406.4 Z" fill="#111" stroke="#111" stroke-width="1.2" stroke-linejoin="round"/>
<ellipse cx="730.5" cy="393" rx="9.3" ry="14" transform="rotate(30 730.5 393)" fill="#fff" stroke="#111" stroke-width="1.2" />
<path d="M723.2,405.6 A9.7,14.5 30 0 1 737.7,380.4 L752.9,389.2 A9.7,14.5 30 0 1 738.4,414.3 Z" fill="url(#knurl6)" stroke="#111" stroke-width="1.8" stroke-linejoin="round"/>
<ellipse cx="745.6" cy="401.8" rx="9.7" ry="14.5" transform="rotate(30 745.6 401.8)" fill="#fff" stroke="#111" stroke-width="2.0" />
<path d="M737.5,444.7 A13,19.5 30 0 1 757,410.9 L760.4,412.9 A13,19.5 30 0 1 740.9,446.7 Z" fill="#111" stroke="#111" stroke-width="1.2" stroke-linejoin="round"/>
<ellipse cx="750.7" cy="429.8" rx="11.5" ry="17.3" transform="rotate(30 750.7 429.8)" fill="#fff" stroke="#111" stroke-width="1.0" />
<path d="M741.6,443.4 A10.9,16.3 30 0 1 757.9,415.2 L781.3,428.7 A10.9,16.3 30 0 1 765,456.9 Z" fill="#fff" stroke="#111" stroke-width="1.6" stroke-linejoin="round"/>
<ellipse cx="773.2" cy="442.8" rx="11.9" ry="17.8" transform="rotate(30 773.2 442.8)" fill="#fff" stroke="#111" stroke-width="2.6" />
<ellipse cx="773.6" cy="443.1" rx="10.3" ry="15.4" transform="rotate(30 773.6 443.1)" fill="#fff" stroke="#111" stroke-width="1.1" />
<path d="M753,417 l5,3" stroke="#111" stroke-width="2"/>
<ellipse cx="757" cy="462" rx="3" ry="2.2" transform="rotate(30 757 462)" fill="#111" stroke="#111" stroke-width="0.5"/>
<polyline points="773.2,442.8 800,458" fill="none" stroke="#111" stroke-width="1.2" />
<polyline points="800,458 824,473" fill="none" stroke="#111" stroke-width="1.2" stroke-dasharray="8 3 3 3" />
<polyline points="810.8,384.4 841.6,401.2" fill="none" stroke="#111" stroke-width="1.3" />
<polyline points="841.6,401.2 864.4,388.8" fill="none" stroke="#111" stroke-width="1.3" stroke-dasharray="7 3 3 3 8" />
<polyline points="864.4,388.8 912,417" fill="none" stroke="#111" stroke-width="1.3" stroke-dasharray="20 4 3 4" />
<polyline points="1007,471 1012,474" fill="none" stroke="#111" stroke-width="1.2" />
<ellipse cx="886.8" cy="401.7" rx="12.8" ry="19.2" transform="rotate(30 886.8 401.7)" fill="none" stroke="#111" stroke-width="3.9" />
<ellipse cx="886.8" cy="401.7" rx="12.8" ry="19.2" transform="rotate(30 886.8 401.7)" fill="none" stroke="#fff" stroke-width="0.5" />
<path d="M909.9,437.3 A12.7,19 30 0 1 928.9,404.3 L936.7,408.8 A12.7,19 30 0 1 917.7,441.8 Z" fill="#111" stroke="#111" stroke-width="1.6" stroke-linejoin="round"/>
<rect x="915.5" y="408.3" width="2" height="2" fill="#fff"/>
<rect x="921.7" y="405.1" width="2" height="2" fill="#fff"/>
<rect x="927.5" y="405.5" width="2" height="2" fill="#fff"/>
<rect x="931.5" y="409.4" width="2" height="2" fill="#fff"/>
<rect x="932.7" y="415.9" width="2" height="2" fill="#fff"/>
<rect x="930.8" y="423.6" width="2" height="2" fill="#fff"/>
<rect x="926.4" y="430.5" width="2" height="2" fill="#fff"/>
<ellipse cx="927.2" cy="425.3" rx="11.3" ry="17" transform="rotate(30 927.2 425.3)" fill="#fff" stroke="#111" stroke-width="1.2" />
<ellipse cx="928.1" cy="425.8" rx="10.7" ry="16" transform="rotate(30 928.1 425.8)" fill="#111" stroke="#111" stroke-width="1.0" />
<path d="M920.3,439.2 A10.3,15.5 30 0 1 935.8,412.4 L952.5,422 A10.3,15.5 30 0 1 937,448.9 Z" fill="url(#knurl4)" stroke="#111" stroke-width="1.8" stroke-linejoin="round"/>
<ellipse cx="944.8" cy="435.4" rx="10.3" ry="15.5" transform="rotate(30 944.8 435.4)" fill="#fff" stroke="#111" stroke-width="2.0" />
<ellipse cx="945.2" cy="435.7" rx="8.7" ry="13" transform="rotate(30 945.2 435.7)" fill="none" stroke="#111" stroke-width="1.0" />
<polyline points="936.7,430.8 949.8,438.4" fill="none" stroke="#111" stroke-width="1.2" stroke-dasharray="6 3 2 3" />
<polyline points="956.8,442.4 964,446" fill="none" stroke="#111" stroke-width="1.2" stroke-dasharray="4 3" />
<path d="M957.9,457.9 A9.5,14.2 30 0 1 972.1,433.3 L978.6,437.1 A9.5,14.2 30 0 1 964.4,461.6 Z" fill="#fff" stroke="#111" stroke-width="2.0" stroke-linejoin="round"/>
<ellipse cx="971.5" cy="449.4" rx="9.5" ry="14.2" transform="rotate(30 971.5 449.4)" fill="#fff" stroke="#111" stroke-width="2.0" />
<ellipse cx="971.5" cy="449.4" rx="8.2" ry="12.3" transform="rotate(30 971.5 449.4)" fill="#111" stroke="#111" stroke-width="1.0" />
<ellipse cx="971.5" cy="449.4" rx="7.5" ry="11.3" transform="rotate(30 971.5 449.4)" fill="none" stroke="#777" stroke-width="0.5" />
<ellipse cx="971.9" cy="449.6" rx="2.4" ry="3.6" transform="rotate(30 971.9 449.6)" fill="#fff" stroke="#111" stroke-width="0.8" />
<ellipse cx="971.9" cy="449.6" rx="1" ry="1.5" transform="rotate(30 971.9 449.6)" fill="#111" stroke="#111" stroke-width="0.5" />
<polyline points="980,457 994,465" fill="none" stroke="#111" stroke-width="1.2" stroke-dasharray="4 3" />
<path d="M988.9,475.7 A8.8,13.2 30 0 1 1002.1,452.9 L1005.1,454.6 A8.8,13.2 30 0 1 991.9,477.5 Z" fill="#111" stroke="#111" stroke-width="1.5" stroke-linejoin="round"/>
<ellipse cx="998.5" cy="466.1" rx="8.8" ry="13.2" transform="rotate(30 998.5 466.1)" fill="#111" stroke="#111" stroke-width="1.5" />
<ellipse cx="998.5" cy="466.1" rx="7" ry="10.5" transform="rotate(30 998.5 466.1)" fill="#fff" stroke="#111" stroke-width="1.0" />
<ellipse cx="999" cy="466.3" rx="5.7" ry="8.5" transform="rotate(30 999 466.3)" fill="none" stroke="#111" stroke-width="1.2" />
<ellipse cx="999.1" cy="466.4" rx="3.7" ry="5.5" transform="rotate(30 999.1 466.4)" fill="none" stroke="#111" stroke-width="1.0" />
<path d="M996,465 l6,4 M1001.5,464 l-4,5" stroke="#111" stroke-width="0.9"/>
<polyline points="862,494 876,502" fill="none" stroke="#111" stroke-width="1.2" stroke-dasharray="4 3" />
<polyline points="912,522 1107,634.5" fill="none" stroke="#111" stroke-width="1.2" stroke-dasharray="40 4 3 4" />
<path d="M808.8,496.5 A19.6,29.5 30 0 1 838.2,445.5 L844.8,449.5 A19.6,29.5 30 0 1 815.2,500.5 Z" fill="#fff" stroke="#111" stroke-width="1.8" stroke-linejoin="round"/>
<ellipse cx="830" cy="475" rx="19.6" ry="29.5" transform="rotate(30 830 475)" fill="#fff" stroke="#111" stroke-width="1.8" />
<path d="M806,490 C807,491.7 809,497.5 812,500 C815,502.5 819.7,504.7 824,505 C828.3,505.3 833.7,504.5 838,502 C842.3,499.5 848,492 850,490 " fill="none" stroke="#111" stroke-width="3"/>
<ellipse cx="832.5" cy="477.5" rx="16.7" ry="25" transform="rotate(30 832.5 477.5)" fill="#fff" stroke="#111" stroke-width="1.4" />
<ellipse cx="834.5" cy="478.6" rx="15.5" ry="23.2" transform="rotate(30 834.5 478.6)" fill="#fff" stroke="#111" stroke-width="3.4" />
<ellipse cx="836.5" cy="479.7" rx="14.1" ry="21.2" transform="rotate(30 836.5 479.7)" fill="none" stroke="#111" stroke-width="1.0" />
<path d="M827,455 L842,453 L852,460 L852,483" fill="none" stroke="#111" stroke-width="1.5"/>
<path d="M809,482 L811,493 L814,496" fill="none" stroke="#111" stroke-width="1.3"/>
<polyline points="824,473 844,484" fill="none" stroke="#111" stroke-width="1.2" />
<polyline points="850,488 862,494" fill="none" stroke="#111" stroke-width="1.2" />
<path d="M863.5,527 A18.3,27.5 30 0 1 891,479.4 L901.8,485.6 A18.3,27.5 30 0 1 874.2,533.2 Z" fill="#fff" stroke="#111" stroke-width="1.8" stroke-linejoin="round"/>
<ellipse cx="888" cy="509.4" rx="17.3" ry="26" transform="rotate(30 888 509.4)" fill="#fff" stroke="#111" stroke-width="1.8" />
<ellipse cx="886" cy="508.3" rx="15" ry="22.5" transform="rotate(30 886 508.3)" fill="#fff" stroke="#111" stroke-width="2.2" />
<path d="M898,488 C898.8,490 902.5,495.3 903,500 C903.5,504.7 902.8,511 901,516 C899.2,521 895.5,527 892,530 C888.5,533 882,533.3 880,534 " fill="none" stroke="#111" stroke-width="1.4"/>
<path d="M893,485 C893.8,487 897.5,492.2 898,497 C898.5,501.8 897.8,509 896,514 C894.2,519 888.5,524.8 887,527 " fill="none" stroke="#111" stroke-width="1.4"/>
<polyline points="876,502 895,512" fill="none" stroke="#111" stroke-width="1.2" />
<polyline points="899,515 912,522" fill="none" stroke="#111" stroke-width="1.2" />
<ellipse cx="924.8" cy="530.7" rx="16" ry="24" transform="rotate(30 924.8 530.7)" fill="none" stroke="#111" stroke-width="4.3" />
<ellipse cx="924.8" cy="530.7" rx="16" ry="24" transform="rotate(30 924.8 530.7)" fill="none" stroke="#fff" stroke-width="0.5" />
<path d="M953.5,579.5 A18.3,27.5 30 0 1 981,531.9 L1000.9,543.4 A18.3,27.5 30 0 1 973.4,591 Z" fill="url(#knurl6)" stroke="#111" stroke-width="2.4" stroke-linejoin="round"/>
<ellipse cx="978.6" cy="539.2" rx="8.2" ry="4.6" transform="rotate(-12 978.6 539.2)" fill="#fff" stroke="#111" stroke-width="1.6"/>
<ellipse cx="987.1" cy="567.2" rx="17.6" ry="26.5" transform="rotate(30 987.1 567.2)" fill="#fff" stroke="#111" stroke-width="2.6" />
<ellipse cx="987.1" cy="567.2" rx="16.1" ry="24.2" transform="rotate(30 987.1 567.2)" fill="none" stroke="#111" stroke-width="1.0" />
<ellipse cx="988" cy="567.7" rx="13.7" ry="20.5" transform="rotate(30 988 567.7)" fill="#fff" stroke="#111" stroke-width="2.0" />
<path d="M972,570 C972.7,571.7 973.8,577.5 976,580 C978.2,582.5 982,584.3 985,585 C988,585.7 992.5,584.2 994,584 " fill="none" stroke="#111" stroke-width="3"/>
<path d="M998,552 C998.7,553.7 1001.7,558.2 1002,562 C1002.3,565.8 1001.2,571.5 1000,575 C998.8,578.5 995.8,581.7 995,583 " fill="none" stroke="#111" stroke-width="1.3"/>
<polyline points="972,556 1000,572" fill="none" stroke="#111" stroke-width="1.2" />
<path d="M1017.1,602 A9.2,13.8 30 0 1 1030.9,578 L1056.9,593 A9.2,13.8 30 0 1 1043.1,617 Z" fill="#fff" stroke="#111" stroke-width="1.8" stroke-linejoin="round"/>
<path d="M1064.2,613.2 L1063.5,614.4 L1062.7,615.6 L1060.8,615.7 L1060.1,616.6 L1059.2,617.6 L1058.4,618.5 L1057.5,619.3 L1056.6,620.1 L1055.6,620.8 L1055,623.2 L1054,623.8 L1052.9,624.4 L1051.8,624.9 L1050.7,625.3 L1049.9,623.6 L1048.9,623.9 L1047.9,624 L1047,624.1 L1046.1,624.1 L1045.2,624 L1044.3,623.8 L1042.6,625.6 L1041.7,625.2 L1040.9,624.8 L1040.1,624.3 L1039.3,623.7 L1040,621.3 L1039.4,620.6 L1038.9,619.9 L1038.4,619.1 L1038,618.3 L1037.6,617.4 L1037.4,616.4 L1035.5,616.5 L1035.3,615.4 L1035.2,614.2 L1035.1,613 L1035.2,611.7 L1036.9,610 L1037.1,608.8 L1037.3,607.6 L1037.6,606.5 L1037.9,605.3 L1038.3,604.1 L1038.8,602.9 L1037.9,601.3 L1038.5,600 L1039.2,598.8 L1039.9,597.6 L1040.7,596.4 L1042.6,596.3 L1043.4,595.4 L1044.2,594.4 L1045.1,593.5 L1045.9,592.7 L1046.8,591.9 L1047.8,591.2 L1048.4,588.8 L1049.5,588.2 L1050.5,587.6 L1051.6,587.1 L1052.7,586.7 L1053.6,588.4 L1054.5,588.1 L1055.5,588 L1056.4,587.9 L1057.3,587.9 L1058.2,588 L1059.1,588.2 L1060.8,586.4 L1061.7,586.8 L1062.6,587.2 L1063.4,587.7 L1064.1,588.3 L1063.5,590.7 L1064,591.4 L1064.6,592.1 L1065,592.9 L1065.4,593.7 L1065.8,594.6 L1066.1,595.6 L1067.9,595.5 L1068.1,596.6 L1068.2,597.8 L1068.3,599 L1068.2,600.3 L1066.5,602 L1066.3,603.2 L1066.1,604.4 L1065.8,605.5 L1065.5,606.7 L1065.1,607.9 L1064.6,609.1 L1065.5,610.7 L1064.9,612 Z" fill="#fff" stroke="#111" stroke-width="1.8" stroke-linejoin="round"/>
<ellipse cx="1052.1" cy="606.2" rx="8.4" ry="12.6" transform="rotate(30 1052.1 606.2)" fill="#fff" stroke="#111" stroke-width="1.6" />
<ellipse cx="1084" cy="622.5" rx="12.9" ry="19.3" transform="rotate(30 1084 622.5)" fill="none" stroke="#111" stroke-width="4.1" />
<ellipse cx="1084" cy="622.5" rx="12.9" ry="19.3" transform="rotate(30 1084 622.5)" fill="none" stroke="#fff" stroke-width="0.5" />
<ellipse cx="1120.7" cy="643.7" rx="16.3" ry="24.5" transform="rotate(30 1120.7 643.7)" fill="#fff" stroke="#111" stroke-width="2.0" />
<ellipse cx="1109.3" cy="634.5" rx="3" ry="3.5" transform="rotate(30 1109.3 634.5)" fill="#111" stroke="#111" stroke-width="0.5"/>
<rect x="1100" y="648" width="4.5" height="5" fill="#fff" stroke="#111" stroke-width="1.3"/>
<polyline points="1156.8,629.6 1184.5,645.2" fill="none" stroke="#111" stroke-width="1.2" stroke-dasharray="8 3 3 3" />
<ellipse cx="1231.5" cy="672.3" rx="58.9" ry="88.5" transform="rotate(30 1231.5 672.3)" fill="#fff" stroke="#111" stroke-width="2.6" />
<ellipse cx="1234.5" cy="674.1" rx="55.9" ry="84" transform="rotate(30 1234.5 674.1)" fill="none" stroke="#111" stroke-width="1.3" />
<ellipse cx="1235.5" cy="674.7" rx="54.7" ry="82.2" transform="rotate(30 1235.5 674.7)" fill="none" stroke="#111" stroke-width="1.1" />
<path d="M1228,628 L1243,617 Q1246,616 1245.5,620 L1245,623 L1233,631 Q1227,633 1227.5,630 Z" fill="#333"/>
<ellipse cx="1260.6" cy="643.7" rx="10.7" ry="16" transform="rotate(30 1260.6 643.7)" fill="#fff" stroke="#111" stroke-width="2.0" />
<ellipse cx="1213.3" cy="670.9" rx="11" ry="16.5" transform="rotate(30 1213.3 670.9)" fill="#fff" stroke="#111" stroke-width="2.0" />
<ellipse cx="1236.6" cy="711.7" rx="17" ry="25.5" transform="rotate(30 1236.6 711.7)" fill="#fff" stroke="#111" stroke-width="2.0" />
<path d="M1217,735 C1219.2,735.5 1224.8,738.8 1230,738 C1235.2,737.2 1243.3,734.3 1248,730 C1252.7,725.7 1255.7,718 1258,712 C1260.3,706 1261.3,697 1262,694 " fill="none" stroke="#111" stroke-width="1.2"/>
<path d="M1216,699 C1217,697.3 1218.7,691.8 1222,689 C1225.3,686.2 1231.3,683.3 1236,682 C1240.7,680.7 1246.3,680.3 1250,681 C1253.7,681.7 1256.7,685.2 1258,686 " fill="none" stroke="#111" stroke-width="1.8"/>
<ellipse cx="1236" cy="683.2" rx="2.5" ry="1.5" transform="rotate(-20 1236 683.2)" fill="#111" stroke="#111" stroke-width="0.5"/>
<polyline points="1131.6,735.7 1164,717.7" fill="none" stroke="#111" stroke-width="1.3" />
<path d="M127,645 L127,696 A9,3 0 0 0 145,696 L145,645" fill="#fff" stroke="#aaa" stroke-width="1.4"/>
<ellipse cx="136" cy="643" rx="10.5" ry="4" fill="#fff" stroke="#aaa" stroke-width="1.4"/>
<ellipse cx="136" cy="643" rx="8" ry="2.8" fill="none" stroke="#aaa" stroke-width="1.1"/>
<path d="M126.5,693 A9.5,3.2 0 0 0 145.5,693 M126.5,689 A9.5,3.2 0 0 0 145.5,689" fill="none" stroke="#aaa" stroke-width="1.1"/>
<path d="M127,650 A9,3 0 0 0 145,650" fill="none" stroke="#aaa" stroke-width="1.1"/>
<ellipse cx="130" cy="659" rx="1.6" ry="2.2" fill="none" stroke="#aaa" stroke-width="1.1"/>
<ellipse cx="130" cy="688" rx="1.6" ry="2.2" fill="none" stroke="#aaa" stroke-width="1.1"/>
<ellipse cx="141" cy="674" rx="1.6" ry="2.2" fill="none" stroke="#aaa" stroke-width="1.1"/>
<ellipse cx="142" cy="690" rx="1.6" ry="2.2" fill="none" stroke="#aaa" stroke-width="1.1"/>
<path d="M190.4,673.1 A7.1,17 25.6 0 1 205,642.5 L232.1,655.4 A7.1,17 25.6 0 1 217.4,686.1 Z" fill="url(#knurl5)" stroke="#111" stroke-width="2.4" stroke-linejoin="round"/>
<path d="M190.4,673.1 A7.1,17 25.6 0 1 205,642.5 L207.8,643.8 A7.1,17 25.6 0 0 193.1,674.4 Z" fill="#111" stroke="#111" stroke-width="1.0" stroke-linejoin="round"/>
<path d="M201.2,678.3 A7.1,17 25.6 0 1 215.9,647.7 L219.5,649.4 A7.1,17 25.6 0 0 204.8,680 Z" fill="#111" stroke="#111" stroke-width="1.0" stroke-linejoin="round"/>
<path d="M212.9,683.9 A7.1,17 25.6 0 1 227.6,653.3 L231.2,655 A7.1,17 25.6 0 0 216.5,685.7 Z" fill="#111" stroke="#111" stroke-width="1.0" stroke-linejoin="round"/>
<path d="M215.3,685.8 A7.4,17.6 25.6 0 1 230.6,654 L234.2,655.8 A7.4,17.6 25.6 0 0 219,687.5 Z" fill="#fff" stroke="#111" stroke-width="1.4" stroke-linejoin="round"/>
<path d="M218.9,687.7 A7.5,17.8 25.6 0 1 234.2,655.6 L241.5,659 A7.5,17.8 25.6 0 1 226.1,691.1 Z" fill="#111" stroke="#111" stroke-width="1.2" stroke-linejoin="round"/>
<ellipse cx="233.8" cy="675.1" rx="7.5" ry="17.8" transform="rotate(25.6 233.8 675.1)" fill="#111" stroke="#111" stroke-width="1.2" />
<ellipse cx="233.8" cy="675.1" rx="5.7" ry="13.5" transform="rotate(25.6 233.8 675.1)" fill="none" stroke="#fff" stroke-width="0.9" />
<ellipse cx="233.8" cy="675.1" rx="4.2" ry="10" transform="rotate(25.6 233.8 675.1)" fill="none" stroke="#777" stroke-width="0.7" />
<path d="M230.1,680.5 A2.7,6.5 25.6 0 1 235.7,668.8 L260.5,680.7 A2.7,6.5 25.6 0 1 254.9,692.4 Z" fill="#111" stroke="#111" stroke-width="1.4" stroke-linejoin="round"/>
<path d="M234.4,673.5 L253.3,682.6" stroke="#fff" stroke-width="2.4"/>
<ellipse cx="257.7" cy="686.5" rx="2.7" ry="6.5" transform="rotate(25.6 257.7 686.5)" fill="#fff" stroke="#111" stroke-width="1.6" />
<ellipse cx="257.9" cy="686.7" rx="1.8" ry="1" transform="rotate(-40 257.9 686.7)" fill="#111" stroke="#111" stroke-width="0.6"/>
<path d="M284.1,650.4 A9.6,15.5 30 0 1 299.6,623.6 L305.7,627.1 A9.6,15.5 30 0 1 290.2,653.9 Z" fill="#111" stroke="#111" stroke-width="1.2" stroke-linejoin="round"/>
<ellipse cx="291.9" cy="637" rx="9.6" ry="15.5" transform="rotate(30 291.9 637)" fill="#111" stroke="#111" stroke-width="1.2" />
<path d="M289.4,651.2 A8.4,13.5 30 0 1 302.9,627.8 L312.5,633.3 A8.4,13.5 30 0 1 299,656.7 Z" fill="#fff" stroke="#111" stroke-width="1.6" stroke-linejoin="round"/>
<path d="M295.5,658.7 A10.5,17 30 0 1 312.5,629.3 L318.6,632.8 A10.5,17 30 0 1 301.6,662.2 Z" fill="#111" stroke="#111" stroke-width="1.2" stroke-linejoin="round"/>
<path d="M298.4,665.6 A13.3,21.5 30 0 1 319.9,628.4 L332.9,635.9 A13.3,21.5 30 0 1 311.4,673.1 Z" fill="#fff" stroke="#111" stroke-width="2.4" stroke-linejoin="round"/>
<ellipse cx="311.8" cy="648.5" rx="11.8" ry="19" transform="rotate(30 311.8 648.5)" fill="none" stroke="#111" stroke-width="1.0" />
<ellipse cx="322.2" cy="654.5" rx="13.3" ry="21.5" transform="rotate(30 322.2 654.5)" fill="#fff" stroke="#111" stroke-width="2.4" />
<ellipse cx="322.6" cy="654.8" rx="10.8" ry="17.5" transform="rotate(30 322.6 654.8)" fill="#fff" stroke="#111" stroke-width="1.6" />
<path d="M314.9,667.1 A9,14.5 30 0 1 329.4,641.9 L344.2,650.4 A9,14.5 30 0 1 329.7,675.6 Z" fill="#fff" stroke="#111" stroke-width="1.6" stroke-linejoin="round"/>
<path d="M329.2,672.4 A7.4,12 30 0 1 341.2,651.6 L351.6,657.6 A7.4,12 30 0 1 339.6,678.4 Z" fill="#111" stroke="#111" stroke-width="1.2" stroke-linejoin="round"/>
<path d="M340.9,672 A3.6,5.8 30 0 1 346.7,662 L406.5,696.5 A3.6,5.8 30 0 1 400.7,706.5 Z" fill="url(#thread2)" stroke="#111" stroke-width="1.6" stroke-linejoin="round"/>
<path d="M345.3,673 L399.9,704.5" stroke="#fff" stroke-width="1.8"/>
<ellipse cx="403.6" cy="701.5" rx="3.6" ry="5.8" transform="rotate(30 403.6 701.5)" fill="#fff" stroke="#111" stroke-width="1.6" />
<path d="M447.5,682 L447.5,691 A13,4.5 0 0 0 473.5,691 L473.5,682 Z" fill="#111" stroke="#111" stroke-width="1.2"/>
<path d="M447.5,675 L447.5,688 A13,4 0 0 0 473.5,688 L473.5,675 Z" fill="#fff" stroke="#111" stroke-width="1.6"/>
<path d="M448,672 L448,678 A12.5,4 0 0 0 473,678 L473,672 Z" fill="#111" stroke="#111" stroke-width="1.2"/>
<path d="M449,674.5 h23 M449,677 h23" stroke="#fff" stroke-width="0.7"/>
<ellipse cx="460.5" cy="667.5" rx="15.5" ry="5.5" fill="#fff" stroke="#111" stroke-width="1.8"/>
<ellipse cx="460.3" cy="661" rx="16.5" ry="7" fill="#fff" stroke="#111" stroke-width="2.8"/>
<path d="M446.5,648 L446.5,660 Q460,668 474.5,660 L474.5,648" fill="#fff" stroke="#111" stroke-width="1.8"/>
<path d="M451.5,655 L451.5,665 M468,655 L468,665 M446.5,655 L451.5,656.5 L468,656.5 L474.5,655" fill="none" stroke="#111" stroke-width="1.2"/>
<ellipse cx="460.3" cy="647.6" rx="14" ry="7.5" fill="#fff" stroke="#111" stroke-width="1.9"/>
<ellipse cx="460.3" cy="647.6" rx="7.8" ry="4.3" fill="#fff" stroke="#111" stroke-width="1.7"/>
<ellipse cx="460.3" cy="648.2" rx="4.8" ry="2.4" fill="none" stroke="#111" stroke-width="1.2"/>
<rect x="509.6" y="642.3" width="114.6" height="4.5" rx="2.2" fill="#fff" stroke="#999" stroke-width="1.2"/>
<path d="M515.4,646.8 L530.8,672.1 L603.3,672.1 L618.8,647" fill="none" stroke="#999" stroke-width="1.2"/>
<path d="M526,663.5 L607,663.5" fill="none" stroke="#999" stroke-width="1.2" stroke-dasharray="6 4"/>
<path d="M540,668 Q539,676 536,679 Q537,682 540,680 Q544,676 545,668" fill="#fff" stroke="#999" stroke-width="1.1"/>
<path d="M590,668 Q591,676 594,679 Q593,682 590,680 Q586,676 585,668" fill="#fff" stroke="#999" stroke-width="1.1"/>
<path d="M615.5,652.5 L607,670 Q603,675.5 597,675.5 L575,675.5" fill="none" stroke="#111" stroke-width="2.6"/>
<path d="M613.5,651 L618,654.5 L613,661 L609,658 Z" fill="#111"/>
<path d="M575,673.5 Q572,673.5 566,678" fill="none" stroke="#111" stroke-width="2.5"/>
<rect x="578.5" y="671" width="8" height="7.5" fill="#111"/>
<path d="M103,799.6 A6.4,15.1 29.7 0 1 118,773.4 L141.2,786.6 A6.4,15.1 29.7 0 1 126.2,812.9 Z" fill="url(#knurl5)" stroke="#111" stroke-width="2.4" stroke-linejoin="round"/>
<path d="M103,799.6 A6.4,15.1 29.7 0 1 118,773.4 L120.3,774.7 A6.4,15.1 29.7 0 0 105.3,801 Z" fill="#111" stroke="#111" stroke-width="1.0" stroke-linejoin="round"/>
<path d="M112.3,804.9 A6.4,15.1 29.7 0 1 127.3,778.6 L130.4,780.4 A6.4,15.1 29.7 0 0 115.4,806.7 Z" fill="#111" stroke="#111" stroke-width="1.0" stroke-linejoin="round"/>
<path d="M122.3,810.7 A6.4,15.1 29.7 0 1 137.3,784.4 L140.4,786.1 A6.4,15.1 29.7 0 0 125.4,812.4 Z" fill="#111" stroke="#111" stroke-width="1.0" stroke-linejoin="round"/>
<path d="M124.4,812.5 A6.6,15.7 29.7 0 1 139.9,785.2 L143,787 A6.6,15.7 29.7 0 0 127.5,814.2 Z" fill="#fff" stroke="#111" stroke-width="1.4" stroke-linejoin="round"/>
<path d="M127.4,814.4 A6.7,15.8 29.7 0 1 143.1,786.8 L149.3,790.4 A6.7,15.8 29.7 0 1 133.6,817.9 Z" fill="#111" stroke="#111" stroke-width="1.2" stroke-linejoin="round"/>
<ellipse cx="141.4" cy="804.1" rx="6.7" ry="15.8" transform="rotate(29.7 141.4 804.1)" fill="#111" stroke="#111" stroke-width="1.2" />
<ellipse cx="141.4" cy="804.1" rx="5" ry="12" transform="rotate(29.7 141.4 804.1)" fill="none" stroke="#fff" stroke-width="0.9" />
<ellipse cx="141.4" cy="804.1" rx="3.7" ry="8.9" transform="rotate(29.7 141.4 804.1)" fill="none" stroke="#777" stroke-width="0.7" />
<path d="M137.8,808.7 A2.4,5.8 29.7 0 1 143.5,798.7 L164.8,810.8 A2.4,5.8 29.7 0 1 159,820.8 Z" fill="#111" stroke="#111" stroke-width="1.4" stroke-linejoin="round"/>
<path d="M141.9,802.9 L158.1,812.1" stroke="#fff" stroke-width="2.1"/>
<ellipse cx="161.9" cy="815.8" rx="2.4" ry="5.8" transform="rotate(29.7 161.9 815.8)" fill="#fff" stroke="#111" stroke-width="1.6" />
<ellipse cx="162.1" cy="816" rx="1.6" ry="1" transform="rotate(-40 162.1 816)" fill="#111" stroke="#111" stroke-width="0.6"/>
<path d="M194.5,797 L194.5,768 A4.8,4.8 0 0 1 204.1,768 L204.1,797" fill="#fff" stroke="#111" stroke-width="1.7"/>
<circle cx="199.3" cy="802.6" r="7.6" fill="#111"/>
<path d="M199.3,767 L199.3,797 M196.5,771 h5.6 M196.5,776 h5.6 M196.5,781 h5.6 M196.5,786 h5.6 M196.5,791 h5.6" stroke="#111" stroke-width="1"/>
<path d="M282.3,797 L282.3,768 A4.8,4.8 0 0 1 291.9,768 L291.9,797 Z" fill="#111" stroke="#111" stroke-width="1.7"/>
<path d="M285,766 A2.3,2.3 0 0 1 289.4,766 L289.4,772 L285,772 Z" fill="#fff"/>
<path d="M287.2,766 v6 M285.7,768.5 h3" stroke="#111" stroke-width="0.9"/>
<circle cx="287.1" cy="802.6" r="7.6" fill="#111"/>
<path d="M218.8,774.6 A29,29 0 0 1 272.1,786" fill="none" stroke="#111" stroke-width="9.2"/>
<path d="M261.2,787.5 L283,784.4 L271.3,798 Z" fill="#111"/>
<path d="M269,803.6 A29,29 0 0 1 214.7,794" fill="none" stroke="#111" stroke-width="9.2"/>
<path d="M225.6,792.5 L203.8,795.6 L215.5,782 Z" fill="#111"/>
<path d="M338,810 L338,831 A11.5,4 0 0 0 361,831 L361,810 Z" fill="#fff" stroke="#111" stroke-width="1.6"/>
<path d="M337.5,808 L337.5,820 A12,4 0 0 0 361.5,820 L361.5,808 Z" fill="#111" stroke="#111" stroke-width="1"/>
<path d="M339,812 A10.5,3.5 0 0 0 360,812 M339,816 A10.5,3.5 0 0 0 360,816" fill="none" stroke="#fff" stroke-width="0.9"/>
<path d="M343,806 L343,828 M356,806 L356,828" stroke="#111" stroke-width="1" fill="none"/>
<path d="M327,779.7 L349,767.8 L370,775.5 L371.5,783 L346.5,795 L327.5,787.5 Z" fill="#fff" stroke="#111" stroke-width="1.6" stroke-linejoin="round"/>
<path d="M327.5,787.5 L327.5,798 L332,798 L332,791 L342,795 L342,806 L349,806 L349,796 L366,788 L366,807 L371,806 L371.5,783" fill="#fff" stroke="#111" stroke-width="1.5" stroke-linejoin="round"/>
<path d="M346.5,795 L346.5,806" stroke="#111" stroke-width="1.2"/>
<ellipse cx="348.5" cy="781" rx="10" ry="5.5" fill="none" stroke="#111" stroke-width="1.3" transform="rotate(-5 348.5 781)"/>
<ellipse cx="348.5" cy="781" rx="6" ry="3.3" fill="none" stroke="#111" stroke-width="1.3"/>
<ellipse cx="348.5" cy="781" rx="3.2" ry="1.8" fill="none" stroke="#111" stroke-width="1.1"/>
<circle cx="425.3" cy="767.3" r="24" fill="#fff" stroke="#888" stroke-width="2.4"/>
<circle cx="425.3" cy="767.3" r="26.4" fill="none" stroke="#111" stroke-width="0.9"/>
<circle cx="425.3" cy="767.3" r="25.2" fill="none" stroke="#111" stroke-width="0.8"/>
<circle cx="425.3" cy="767.3" r="22.7" fill="none" stroke="#111" stroke-width="1.0"/>
<clipPath id="cp425"><circle cx="425.3" cy="767.3" r="22.3"/></clipPath>
<path d="M401,745 L432,760 Q436,763 434,768 Q432,771 428,769.5 L400,755" fill="#fff" stroke="#111" stroke-width="1.1" clip-path="url(#cp425)"/>
<path d="M425.3,770.3 L429.3,770.3 L432.8,787.8 L421.8,787.8 Z" fill="#111"/>
<path d="M406.3,778.3 L444.3,756.8" stroke="#111" stroke-width="3.6"/>
<path d="M406.3,778.3 L444.3,756.8" stroke="#888" stroke-width="2.2"/>
<circle cx="487.1" cy="807.6" r="24" fill="#fff" stroke="#888" stroke-width="2.4"/>
<circle cx="487.1" cy="807.6" r="26.4" fill="none" stroke="#111" stroke-width="0.9"/>
<circle cx="487.1" cy="807.6" r="25.2" fill="none" stroke="#111" stroke-width="0.8"/>
<circle cx="487.1" cy="807.6" r="22.7" fill="none" stroke="#111" stroke-width="1.0"/>
<clipPath id="cp487"><circle cx="487.1" cy="807.6" r="22.3"/></clipPath>
<path d="M466,785 L494,799 Q497,801 496.5,805 L496,809 L490,810 L466,797" fill="#fff" stroke="#111" stroke-width="1.1" clip-path="url(#cp487)"/>
<path d="M487.1,810.6 L491.1,810.6 L494.6,828.1 L483.6,828.1 Z" fill="#111"/>
<path d="M552.2,777.9 A2.9,5.2 26.3 0 1 556.8,768.5 L604.3,792 A2.9,5.2 26.3 0 1 599.7,801.3 Z" fill="#222" stroke="#111" stroke-width="1.4" stroke-linejoin="round"/>
<ellipse cx="602" cy="796.7" rx="2.9" ry="5.2" transform="rotate(26.3 602 796.7)" fill="#fff" stroke="#111" stroke-width="1.4" />
<path d="M555.2,777.5 L597.3,798.4" stroke="#fff" stroke-width="1.3"/>
<ellipse cx="554.5" cy="773.2" rx="2.9" ry="5.2" transform="rotate(26.3 554.5 773.2)" fill="#fff" stroke="#111" stroke-width="1.4" />
<path d="M524.8,819.1 A4.8,8.8 27 0 1 532.8,803.5 L559.5,817.1 A4.8,8.8 27 0 1 551.5,832.8 Z" fill="#fff" stroke="#111" stroke-width="1.5" stroke-linejoin="round"/>
<ellipse cx="555.5" cy="824.9" rx="4.8" ry="8.8" transform="rotate(27 555.5 824.9)" fill="#fff" stroke="#111" stroke-width="1.5" />
<ellipse cx="555.5" cy="824.9" rx="3.6" ry="6.5" transform="rotate(27 555.5 824.9)" fill="#fff" stroke="#111" stroke-width="1.2" />
<path d="M534.1,805.2 L557.2,817" stroke="#111" stroke-width="2.6"/>
<path d="M558.4,806.5 A4.4,8 31 0 1 566.6,792.7 L598.3,811.8 A4.4,8 31 0 1 590.1,825.5 Z" fill="#fff" stroke="#111" stroke-width="1.4" stroke-linejoin="round"/>
<path d="M601.1,822.8 L600.5,823.7 L599.9,824.6 L598.6,824.6 L598,825.3 L597.4,826 L596.7,826.6 L596.1,827.1 L595.4,827.6 L594.7,829.5 L593.9,829.9 L593.1,830.2 L592.4,830.5 L592.1,829 L591.5,829.1 L590.9,829.1 L590.4,829 L589.9,828.8 L589.4,828.6 L588,829.8 L587.5,829.3 L587.1,828.8 L586.8,828.2 L587.7,826.4 L587.6,825.8 L587.5,825.1 L587.4,824.4 L587.4,823.6 L587.5,822.8 L586.3,822.5 L586.6,821.5 L586.8,820.5 L587.1,819.5 L588.6,818.6 L589,817.7 L589.4,816.9 L589.9,816.1 L590.4,815.2 L590.9,814.5 L591.5,813.7 L591.7,812 L592.4,811.2 L593.1,810.5 L593.9,809.9 L594.7,810.7 L595.4,810.3 L596.1,809.9 L596.7,809.7 L597.4,809.4 L598,809.3 L599.2,807.6 L599.9,807.6 L600.5,807.7 L601.1,807.9 L600.7,809.7 L601.2,810.1 L601.6,810.4 L601.9,810.9 L602.2,811.4 L602.4,811.9 L603.8,811.5 L603.9,812.3 L604,813.1 L604,814 L602.7,815.5 L602.6,816.3 L602.4,817.2 L602.2,818 L601.9,818.9 L601.5,819.7 L602.2,820.8 L601.7,821.8 Z" fill="#fff" stroke="#111" stroke-width="1.5"/>
<ellipse cx="595.1" cy="819.2" rx="3.9" ry="7" transform="rotate(31 595.1 819.2)" fill="#fff" stroke="#111" stroke-width="1.4" />
<path d="M621,748 L649,744.5 L650.5,834 L621,832 Z" fill="#fff" stroke="#111" stroke-width="1.8"/>
<path d="M625,748 L625,832 M644,745 L645,833" stroke="#111" stroke-width="1.3"/>
<path d="M633.8,752 L633.8,826" stroke="#111" stroke-width="1"/>
<path d="M621,770 h4 M621,800 h4" stroke="#111" stroke-width="1"/>
<circle cx="634.4" cy="789.3" r="7.3" fill="#111"/><circle cx="634.4" cy="789.3" r="2.8" fill="#fff"/>
<ellipse cx="634.4" cy="824.2" rx="7" ry="6" fill="#111"/><ellipse cx="634.4" cy="823.8" rx="3.8" ry="1.8" fill="#fff"/>
<path d="M650,752 L656,752 L656,834 L650,834" fill="#fff" stroke="#111" stroke-width="1.5"/>
<rect x="656" y="757" width="9" height="26" fill="#fff" stroke="#111" stroke-width="1.4"/>
<rect x="656" y="784" width="7" height="15" fill="#fff" stroke="#111" stroke-width="1.3"/>
<rect x="656" y="800" width="12" height="33" fill="#fff" stroke="#111" stroke-width="1.4"/>
<rect x="665" y="766" width="8" height="14" fill="#fff" stroke="#111" stroke-width="1.2"/>
<rect x="671" y="766.5" width="10" height="18.5" fill="#fff" stroke="#111" stroke-width="1.2"/>
<rect x="681" y="770.7" width="17" height="10" fill="#111"/><rect x="681" y="774.8" width="17" height="1.6" fill="#fff"/>
<rect x="698" y="770.7" width="17" height="10" fill="#aaa"/><rect x="698" y="774.8" width="17" height="1.6" fill="#fff"/>
<rect x="667.6" y="806.7" width="26" height="17" fill="#111"/>
<path d="M668,810 h25 M668,820 h25" stroke="#fff" stroke-width="0.8"/>
<text x="656" y="756" font-size="18.5" style="font-family:'Liberation Sans',sans-serif;fill:#111">+25</text>
<path d="M662,758 L697,758 M699,752 L699,781 M715.5,752 L715.5,781 M735,758 L717,758" stroke="#777" stroke-width="1"/>
<path d="M698,758 l-7,-2.5 l0,5 Z M716.5,758 l7,-2.5 l0,5 Z" fill="#777"/>
</g>
</svg>
</body></html>
